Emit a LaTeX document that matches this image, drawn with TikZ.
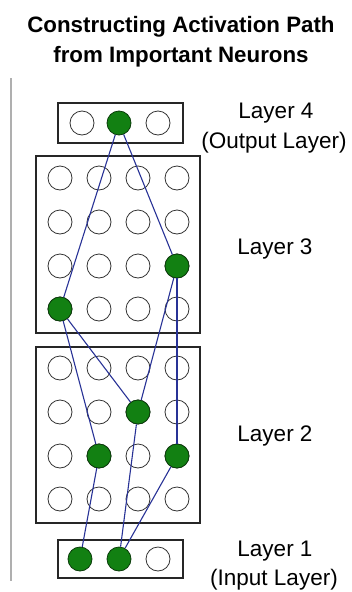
\documentclass[tikz,border=0pt]{standalone}
\usepackage{fontspec}
\setmainfont{Liberation Sans}
\definecolor{pathblue}{RGB}{40,50,150}
\definecolor{neurgreen}{RGB}{18,128,18}
\definecolor{neurdark}{RGB}{10,60,10}
\definecolor{sidegray}{RGB}{175,175,175}
\begin{document}
\begin{tikzpicture}[x=1pt,y=-1pt,
  neuron/.style={circle,draw=black!80,line width=0.8pt,fill=white,minimum size=24pt,inner sep=0pt},
  active/.style={neuron,fill=neurgreen,draw=neurdark},
  layerbox/.style={draw=black!85,line width=1.3pt},
  pathedge/.style={draw=pathblue,line width=1.1pt},
  titletext/.style={anchor=base,font=\fontsize{22.3}{26}\selectfont\bfseries,inner sep=0pt},
  labeltext/.style={anchor=base,font=\fontsize{22.5}{26}\selectfont,inner sep=0pt}]
\useasboundingbox (0,0) rectangle (351,592);
% title
\node[titletext] (t1) at (181,32) {Constructing Activation Path};
\node[titletext] (t2) at (181,62) {from Important Neurons};
% side line
\draw[sidegray,line width=2pt] (11,78) -- (11,581);
% boxes
\draw[layerbox] (58,103) rectangle (183,143);
\draw[layerbox] (36,156) rectangle (200,333);
\draw[layerbox] (36,347) rectangle (200,523);
\draw[layerbox] (58,540) rectangle (183,578);
% layer 4
\node[neuron] (L4a) at (82,123) {};
\node[active] (L4b) at (119,123) {};
\node[neuron] (L4c) at (158,123) {};
% layer 3 grid
\foreach \c/\x in {1/60,2/99,3/138,4/177}{
  \foreach \r/\y in {1/178,2/222,3/266,4/309}{
    \node[neuron] (L3-\r-\c) at (\x,\y) {};
  }
  \foreach \r/\y in {1/368,2/412,3/456,4/499}{
    \node[neuron] (L2-\r-\c) at (\x,\y) {};
  }
}
% active neurons in layers 3 and 2
\node[active] (A3r) at (177,266) {};
\node[active] (A3l) at (60,309) {};
\node[active] (A2m) at (138,412) {};
\node[active] (A2l) at (99,456) {};
\node[active] (A2r) at (177,456) {};
% layer 1
\node[active] (L1a) at (80,559) {};
\node[active] (L1b) at (119,559) {};
\node[neuron] (L1c) at (158,559) {};
% path edges
\draw[pathedge] (L4b) -- (A3l);
\draw[pathedge] (L4b) -- (A3r);
\draw[pathedge] (A3l) -- (A2l);
\draw[pathedge] (A3l) -- (A2m);
\draw[pathedge] (A3r) -- (A2m);
\draw[pathedge] (A3r) -- (A2r);
\draw[pathedge] (A2l) -- (L1a);
\draw[pathedge] (A2m) -- (L1b);
\draw[pathedge] (A2r) -- (L1b);
% labels
\node[labeltext] (lab4a) at (276,118) {Layer 4};
\node[labeltext] (lab4b) at (274,148) {(Output Layer)};
\node[labeltext] (lab3) at (275,254) {Layer 3};
\node[labeltext] (lab2) at (275,441) {Layer 2};
\node[labeltext] (lab1a) at (275,556) {Layer 1};
\node[labeltext] (lab1b) at (274,585) {(Input Layer)};
\end{tikzpicture}
\end{document}
